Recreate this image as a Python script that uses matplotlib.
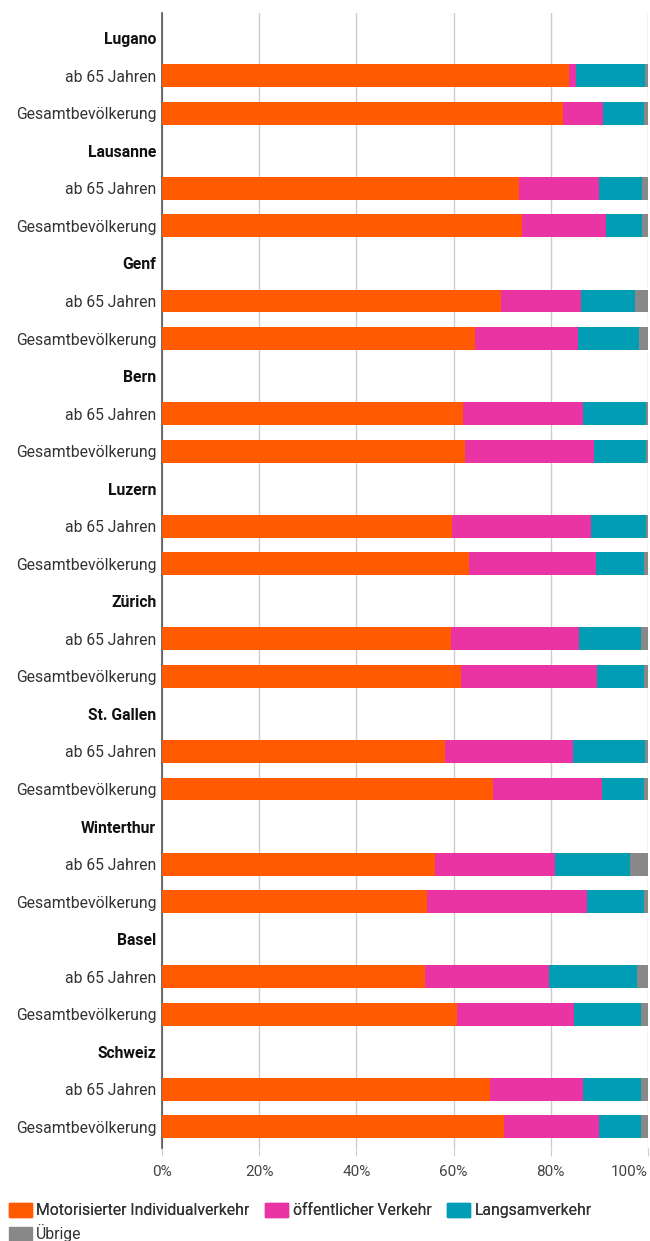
import numpy as np
import matplotlib
matplotlib.use("Agg")
import matplotlib.pyplot as plt
from matplotlib.patches import Patch

plt.rcParams['font.family'] = ['Roboto', 'DejaVu Sans']

# cities top to bottom
cities = ["Lugano", "Lausanne", "Genf", "Bern", "Luzern", "Zürich",
          "St. Gallen", "Winterthur", "Basel", "Schweiz"]
groups = ["ab 65 Jahren", "Gesamtbevölkerung"]

# shares in % per city: [ab 65, gesamt]
miv = [[83.7, 82.5], [73.4, 74.0], [69.7, 64.5], [62.0, 62.3], [59.6, 63.1],
       [59.4, 61.5], [58.3, 68.2], [56.1, 54.6], [54.1, 60.8], [67.4, 70.3]]
oev = [[1.4, 8.2], [16.5, 17.3], [16.6, 21.0], [24.6, 26.5], [28.7, 26.1],
       [26.5, 28.0], [26.3, 22.3], [24.8, 32.8], [25.5, 23.9], [19.2, 19.7]]
langsam = [[14.3, 8.4], [8.9, 7.5], [11.0, 12.6], [13.0, 10.8], [11.3, 9.9],
           [12.7, 9.6], [14.8, 8.6], [15.3, 11.7], [18.1, 13.9], [12.0, 8.6]]
uebrige = [[0.6, 0.9], [1.2, 1.2], [2.7, 1.9], [0.4, 0.4], [0.4, 0.9],
           [1.4, 0.9], [0.6, 0.9], [3.8, 0.9], [2.3, 1.4], [1.4, 1.4]]

series_names = ["Motorisierter Individualverkehr", "öffentlicher Verkehr",
                "Langsamverkehr", "Übrige"]
colors = ["#FF5A00", "#EA34A3", "#009DB5", "#888888"]
xticks = [0, 20, 40, 60, 80, 100]

fig = plt.figure(figsize=(6.5, 12.41), dpi=100)
ax = fig.add_axes([0.249, 0.075, 0.748, 0.9145])

# build row list: header row then two bar rows per city
labels = []
bold = []
bar_pos = []
vals = [[], [], [], []]
pos = 0
for i, c in enumerate(cities):
    labels.append(c)
    bold.append(True)
    pos += 1
    for j, g in enumerate(groups):
        labels.append(g)
        bold.append(False)
        bar_pos.append(pos)
        for k, s in enumerate([miv, oev, langsam, uebrige]):
            vals[k].append(s[i][j])
        pos += 1

bar_pos = np.array(bar_pos)
left = np.zeros(len(bar_pos))
for k in range(4):
    v = np.array(vals[k])
    ax.barh(bar_pos, v, left=left, height=0.61, color=colors[k],
            label=series_names[k], zorder=3)
    left += v

ax.set_xlim(0, 100)
ax.set_ylim(len(labels) - 1 + 0.56, -0.67)
ax.set_yticks(range(len(labels)))
ax.set_yticklabels(labels)
for t, b in zip(ax.get_yticklabels(), bold):
    if b:
        t.set_fontweight("bold")
        t.set_color("#111111")
    else:
        t.set_color("#333333")
    t.set_fontsize(11.3)
ax.tick_params(axis="y", length=0, pad=4)

ax.set_xticks(xticks)
ax.set_xticklabels([f"{x}%" for x in xticks])
ax.tick_params(axis="x", length=6, color="#cccccc", labelsize=11,
               labelcolor="#444444", pad=6)
ax.get_xticklabels()[-1].set_horizontalalignment("right")
ax.xaxis.grid(True, color="#cccccc", linewidth=1, zorder=0)
for sp in ["top", "right", "bottom"]:
    ax.spines[sp].set_visible(False)
ax.spines["left"].set_color("#555555")
ax.spines["left"].set_linewidth(1.2)

handles = [Patch(color=c) for c in colors]
leg_kw = dict(loc="upper left", frameon=False, handlelength=1.45,
              handleheight=1.0, handletextpad=0.3, columnspacing=1.0,
              borderaxespad=0, labelcolor="#333333", fontsize=11.3)
leg1 = fig.legend(handles[:3], series_names[:3], ncol=3,
                  bbox_to_anchor=(0.004, 0.036), **leg_kw)
fig.add_artist(leg1)
fig.legend(handles[3:], series_names[3:],
           bbox_to_anchor=(0.004, 0.0185), **leg_kw)

fig.savefig("out.png", dpi=100)
